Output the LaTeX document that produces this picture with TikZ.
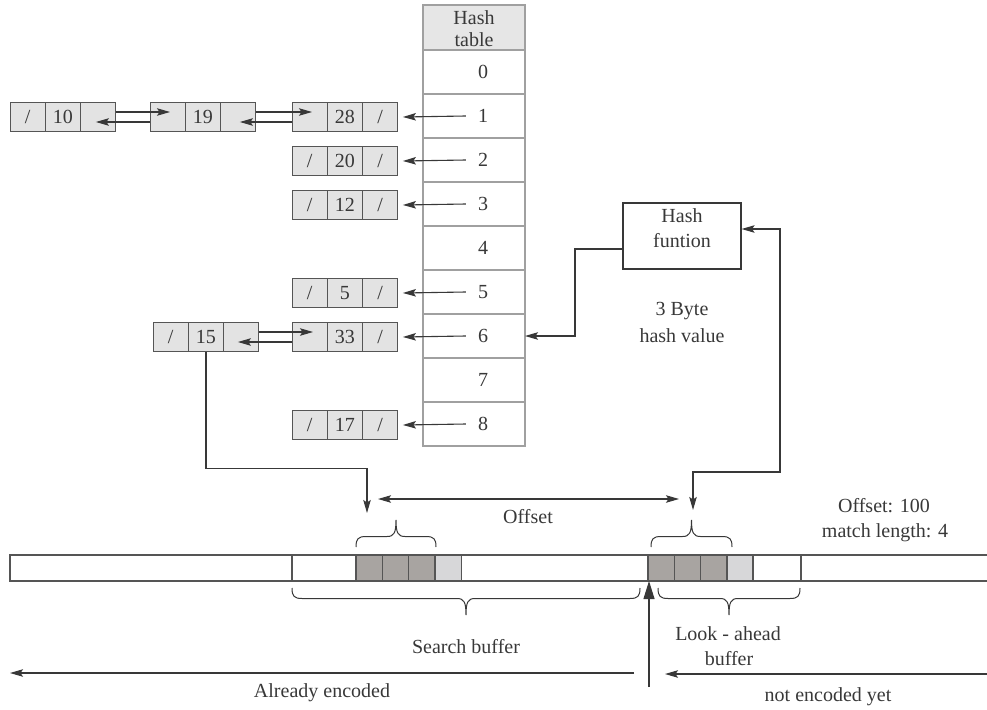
\documentclass[tikz,border=0pt]{standalone}
\usepackage{fontspec}
\setmainfont{Liberation Serif}
\usetikzlibrary{arrows.meta,calc}

\definecolor{ink}{HTML}{383838}
\definecolor{boxline}{HTML}{555555}
\definecolor{tabline}{HTML}{A0A0A0}
\definecolor{cellfill}{HTML}{E3E3E3}
\definecolor{headfill}{HTML}{E6E6E6}
\definecolor{darkcell}{HTML}{A8A4A1}
\definecolor{lightcell}{HTML}{D7D7D9}

% one list entry: three cells side by side (name, left x, centre y, three texts)
\newcommand\mkentry[6]{%
  \node[cell] (#1a) at ({#2+17.65},#3) {#4};
  \node[cell] (#1b) at ({#2+52.95},#3) {#5};
  \node[cell] (#1c) at ({#2+88.25},#3) {#6};}

% curly brace: x1, x2, y of the ends, direction (+1 tip down, -1 tip up)
\newcommand\curlybrace[4]{%
  \pgfmathsetmacro\bracemid{(#1+#2)/2}%
  \draw[thinline] (#1,#3) .. controls (#1,{#3+8*#4}) and ({#1+2},{#3+10.5*#4}) .. ({#1+10},{#3+10.5*#4})
    -- ({\bracemid-9},{#3+10.5*#4}) .. controls ({\bracemid-2},{#3+10.5*#4}) and (\bracemid,{#3+14*#4}) .. (\bracemid,{#3+27*#4})
    .. controls (\bracemid,{#3+14*#4}) and ({\bracemid+2},{#3+10.5*#4}) .. ({\bracemid+9},{#3+10.5*#4})
    -- ({#2-10},{#3+10.5*#4}) .. controls ({#2-2},{#3+10.5*#4}) and (#2,{#3+8*#4}) .. (#2,#3);}

\begin{document}
\begin{tikzpicture}[x=1pt,y=-1pt,
  font=\fontsize{20}{24}\selectfont,
  line/.style={draw=ink, line width=1.1pt},
  thinline/.style={draw=ink, line width=1pt},
  arr/.style={line, -{Stealth[length=13pt,width=7.5pt,inset=2.5pt]}},
  arrboth/.style={line, {Stealth[length=13pt,width=7.5pt,inset=2.5pt]}-{Stealth[length=13pt,width=7.5pt,inset=2.5pt]}},
  bigarr/.style={line, -{Triangle[length=18pt,width=11pt]}},
  bufline/.style={draw=boxline, line width=1.1pt},
  cell/.style={draw=boxline, fill=cellfill, line width=1pt, minimum width=35.3pt,
    minimum height=29pt, inner sep=0pt, outer sep=0pt, text height=13.5pt, text depth=0pt, text=ink},
  slot/.style={draw=tabline, fill=white, line width=1.1pt, minimum width=102pt,
    minimum height=44pt, inner sep=0pt, outer sep=0pt},
  num/.style={inner sep=0pt, text height=13.5pt, text depth=0pt, text=ink},
  lbl/.style={anchor=base, inner sep=0pt, text=ink},
  fnbox/.style={draw=ink, line width=1.1pt, minimum width=118pt, minimum height=66pt, inner sep=0pt}]

\useasboundingbox (0,0) rectangle (987,709);

% hash table
\node[slot, fill=headfill, minimum height=45pt] (hdr) at (474,27.5) {};
\node[lbl] at (474,25) {Hash};
\node[lbl] at (474,47) {table};
\foreach \k in {0,...,8} \node[slot] (r\k) at (474,{72+44*\k}) {};
\foreach \k in {0,...,8} \node[num] (t\k) at ([xshift=9pt]r\k.center) {\k};

% chained entries
\mkentry{L10}{10}{117}{/}{10}{}
\mkentry{L19}{150}{117}{}{19}{}
\mkentry{L28}{292}{117}{}{28}{/}
\mkentry{L20}{292}{161}{/}{20}{/}
\mkentry{L12}{292}{205}{/}{12}{/}
\mkentry{L5}{292}{293}{/}{5}{/}
\mkentry{L15}{153}{337}{/}{15}{}
\mkentry{L33}{292}{337}{}{33}{/}
\mkentry{L17}{292}{425}{/}{17}{/}

% table slots point to their chains
\foreach \k/\e in {1/L28c, 2/L20c, 3/L12c, 5/L5c, 6/L33c, 8/L17c}
  \draw[arr] ([xshift=-12pt]t\k.west) -- ([xshift=5pt]\e.east);

% forward / backward links
\draw[arr] ([yshift=5pt]L10c.east) -- ([xshift=20pt,yshift=5pt]L19a.west);
\draw[arr] ([yshift=-5pt]L19a.west) -- ([xshift=-20pt,yshift=-5pt]L10c.east);
\draw[arr] ([yshift=5pt]L19c.east) -- ([xshift=20pt,yshift=5pt]L28a.west);
\draw[arr] ([yshift=-5pt]L28a.west) -- ([xshift=-16pt,yshift=-5pt]L19c.east);
\draw[arr] ([yshift=5pt]L15c.east) -- ([xshift=21pt,yshift=5pt]L33a.west);
\draw[arr] ([yshift=-5pt]L33a.west) -- ([xshift=-21pt,yshift=-5pt]L15c.east);

% hash function
\node[fnbox] (fn) at (682,236) {};
\node[lbl] at (682,222) {Hash};
\node[lbl] at (682,247) {funtion};
\node[lbl] at (682,315) {3 Byte};
\node[lbl] at (682,342) {hash value};

\coordinate (kF) at (575,336);
\coordinate (kR) at (780,472);
\coordinate (mL) at (367,513);
\coordinate (mR) at (693,510);
\coordinate (oL) at (378,499);
\coordinate (oR) at (679,499);

\draw[arr] ([yshift=-13pt]fn.west) -| (kF) |- (r6.east);
\draw[arrboth] ([yshift=7pt]fn.east) -| (kR) -| (mR);
\draw[arr] (L15b.south) -- ++(0,117) -| (mL);
\draw[arrboth] (oL) -- (oR);
\node[lbl] at (528,523) {Offset};
\node[lbl] at (884,512) {Offset: 100};
\node[lbl] at (885,537) {match length: 4};

% sliding window strip
\foreach \a/\b in {356/382.3, 382.3/408.6, 408.6/435, 648/674.3, 674.3/700.6, 700.6/727}
  \draw[bufline, fill=darkcell] (\a,555) rectangle (\b,581);
\foreach \a/\b in {435/461.5, 727/753}
  \draw[bufline, fill=lightcell] (\a,555) rectangle (\b,581);
\draw[bufline] (987,555) -- (10,555) -- (10,581) -- (987,581);
\draw[bufline] (292,555) -- (292,581);
\draw[bufline] (801,555) -- (801,581);

% braces
\curlybrace{356}{436}{547}{-1}
\curlybrace{651}{732}{547}{-1}
\curlybrace{292}{640}{588}{1}
\curlybrace{658}{800}{588}{1}

\node[lbl] at (466,653) {Search buffer};
\node[lbl] at (728,640) {Look - ahead};
\node[lbl] at (729,665) {buffer};

% current position and directions
\coordinate (pos) at (649,581);
\coordinate (posbase) at (649,687);
\draw[bigarr] (posbase) -- (pos);
\coordinate (encA) at (634,673);
\coordinate (encB) at (10,673);
\coordinate (newA) at (987,674);
\coordinate (newB) at (665,674);
\draw[arr] (encA) -- (encB);
\draw[arr] (newA) -- (newB);
\node[lbl] at (322,697) {Already encoded};
\node[lbl] at (828,701) {not encoded yet};
\end{tikzpicture}
\end{document}
